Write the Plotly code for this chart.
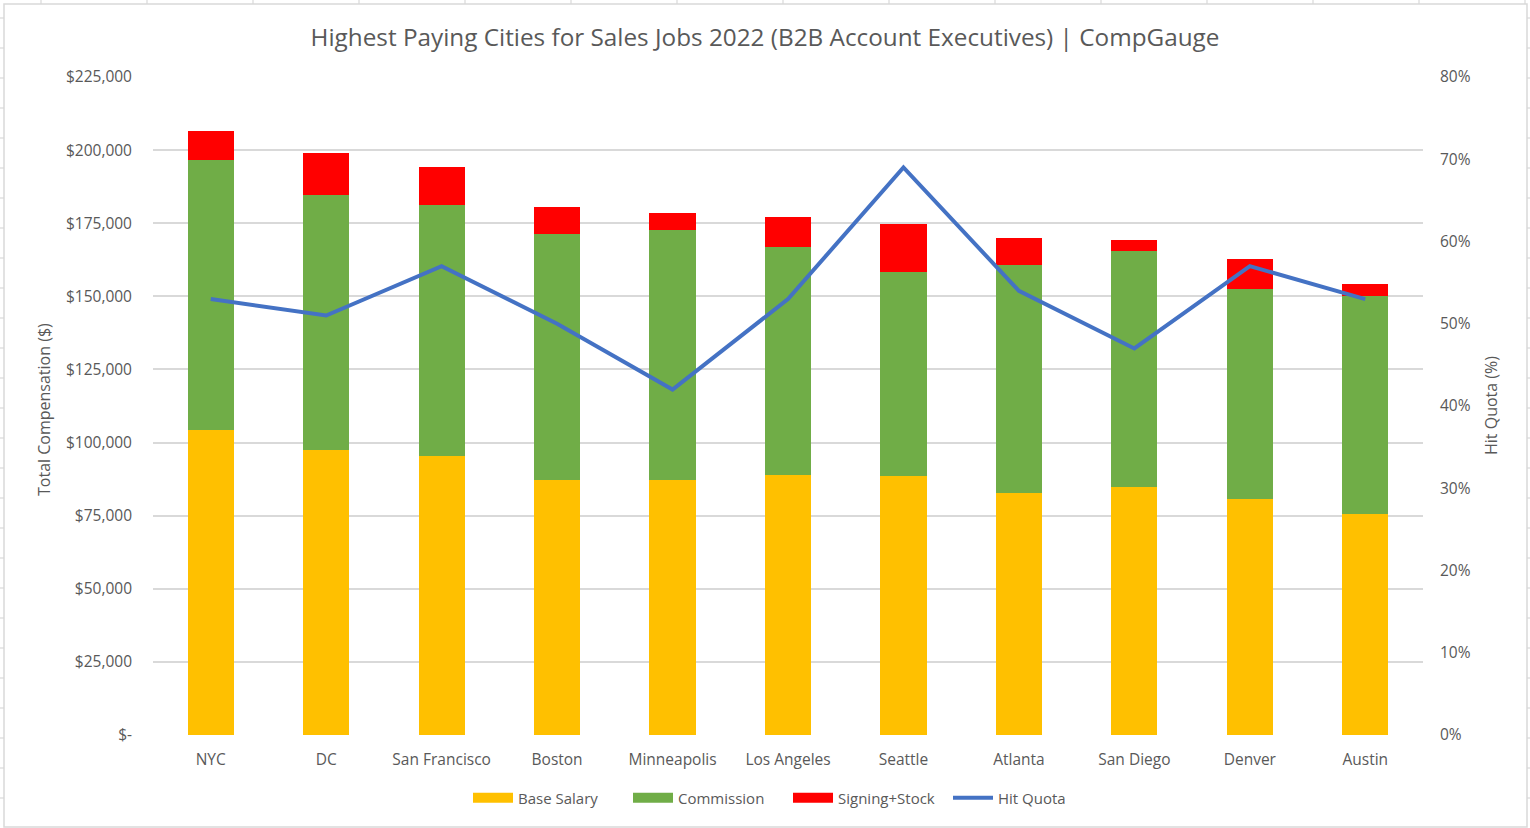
import plotly.graph_objects as go

cities = ["NYC", "DC", "San Francisco", "Boston", "Minneapolis", "Los Angeles",
          "Seattle", "Atlanta", "San Diego", "Denver", "Austin"]
base_salary = [104300, 97500, 95400, 87200, 87200, 88900, 88600, 82800, 84800, 80700, 75600]
commission = [92300, 87200, 85900, 84100, 85500, 78000, 69700, 77900, 80700, 71800, 74500]
signing_stock = [10000, 14300, 13000, 9300, 5800, 10300, 16500, 9300, 3800, 10300, 4100]
hit_quota = [0.53, 0.51, 0.57, 0.50, 0.42, 0.53, 0.69, 0.54, 0.47, 0.57, 0.53]

y_tickvals = [0, 25000, 50000, 75000, 100000, 125000, 150000, 175000, 200000, 225000]
y_ticktext = ["$-", "$25,000", "$50,000", "$75,000", "$100,000", "$125,000",
              "$150,000", "$175,000", "$200,000", "$225,000"]
y2_tickvals = [0, 0.1, 0.2, 0.3, 0.4, 0.5, 0.6, 0.7, 0.8]
y2_ticktext = ["0%", "10%", "20%", "30%", "40%", "50%", "60%", "70%", "80%"]

FONT = "'Open Sans', Lato, sans-serif"
TXT = "#595959"
GRID = "#d9d9d9"
COLORS = {"Base Salary": "#FFC000", "Commission": "#70AD47", "Signing+Stock": "#FF0000"}

W, H = 1530, 828
L, R, T, B = 153, 1423, 77, 735


def px(x):
    return (x - L) / (R - L)


def py(y):
    return (B - y) / (B - T)


fig = go.Figure()
for name, vals in [("Base Salary", base_salary), ("Commission", commission),
                   ("Signing+Stock", signing_stock)]:
    fig.add_trace(go.Bar(x=cities, y=vals, name=name, marker_color=COLORS[name],
                         marker_line_width=0, showlegend=False, legendgroup=name))
fig.add_trace(go.Scatter(x=cities, y=hit_quota, name="Hit Quota", mode="lines",
                         line=dict(color="#4472C4", width=4), yaxis="y2",
                         showlegend=False, legendgroup="Hit Quota"))
for name in ["Base Salary", "Commission", "Signing+Stock"]:
    fig.add_trace(go.Scatter(x=[None], y=[None], name=name, mode="lines",
                             line=dict(color=COLORS[name], width=11), legendgroup=name))
fig.add_trace(go.Scatter(x=[None], y=[None], name="Hit Quota", mode="lines",
                         line=dict(color="#4472C4", width=4), legendgroup="Hit Quota"))

shapes = []
shapes.append(dict(type="rect", xref="paper", yref="paper",
                   x0=px(4), x1=px(1527), y0=py(4), y1=py(827),
                   line=dict(color=GRID, width=1.5), fillcolor="rgba(0,0,0,0)", layer="below"))
for cx in range(41, 1530, 106):
    shapes.append(dict(type="line", xref="paper", yref="paper",
                       x0=px(cx), x1=px(cx), y0=py(0), y1=py(4),
                       line=dict(color=GRID, width=1.2)))
for ry in range(18, 828, 30):
    shapes.append(dict(type="line", xref="paper", yref="paper",
                       x0=px(0), x1=px(4), y0=py(ry), y1=py(ry),
                       line=dict(color=GRID, width=1.2)))
    shapes.append(dict(type="line", xref="paper", yref="paper",
                       x0=px(1527), x1=px(1530), y0=py(ry), y1=py(ry),
                       line=dict(color=GRID, width=1.2)))

annotations = [
    dict(text="Total Compensation ($)", xref="paper", yref="paper",
         x=px(44), y=py(409), textangle=-90, showarrow=False,
         font=dict(family=FONT, size=16, color=TXT), xanchor="center", yanchor="middle"),
    dict(text="Hit Quota (%)", xref="paper", yref="paper",
         x=px(1491), y=py(406), textangle=-90, showarrow=False,
         font=dict(family=FONT, size=16, color=TXT), xanchor="center", yanchor="middle"),
]

fig.update_layout(
    width=W, height=H,
    margin=dict(l=L, r=W - R, t=T, b=H - B, autoexpand=False),
    paper_bgcolor="white", plot_bgcolor="white",
    barmode="stack", bargap=0.6,
    font=dict(family=FONT, size=15, color=TXT),
    title=dict(text="Highest Paying Cities for Sales Jobs 2022 (B2B Account Executives) | CompGauge",
               x=0.5, xref="container", xanchor="center",
               y=1 - 37 / H, yref="container", yanchor="middle",
               font=dict(family=FONT, size=24.3, color=TXT)),
    xaxis=dict(showgrid=False, showline=False, ticks="", tickfont=dict(size=15.5, color=TXT),
               ticklabelstandoff=13),
    yaxis=dict(range=[0, 225000], tickvals=y_tickvals, ticktext=y_ticktext,
               showgrid=True, gridcolor=GRID, gridwidth=1.5, zeroline=False,
               showline=False, ticks="", ticklabelstandoff=20,
               tickfont=dict(size=15.5, color=TXT)),
    yaxis2=dict(range=[0, 0.8], tickvals=y2_tickvals, ticktext=y2_ticktext,
                overlaying="y", side="right", showgrid=False, zeroline=False,
                showline=False, ticks="", ticklabelstandoff=16,
                tickfont=dict(size=15.5, color=TXT)),
    legend=dict(orientation="h", x=0.5, xanchor="center", xref="paper",
                y=py(798), yanchor="middle", traceorder="normal",
                font=dict(family=FONT, size=15, color=TXT), itemwidth=40,
                entrywidth=105, entrywidthmode="pixels"),
    shapes=shapes,
    annotations=annotations,
)

fig.write_html("out.html", config={"displayModeBar": False},
               post_script="document.body.style.margin='0';")
